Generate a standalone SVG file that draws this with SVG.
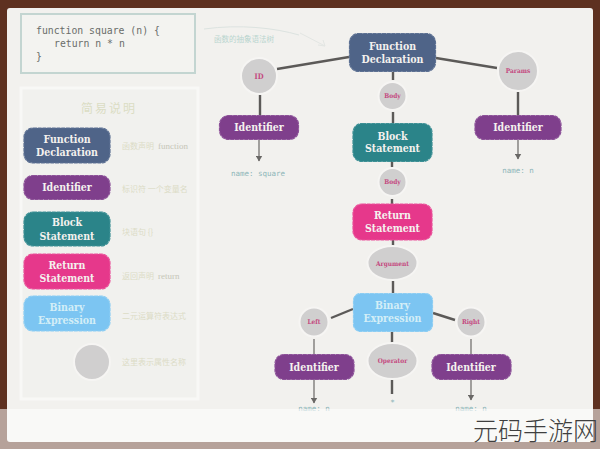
<svg xmlns="http://www.w3.org/2000/svg" width="600" height="449" viewBox="0 0 600 449">
<defs>
<style>
.n{stroke-width:1.2;stroke-dasharray:4 .7}
.fd{fill:#4f6488;stroke:#5d7193}
.id{fill:#7f3f8c;stroke:#8d5299}
.bs{fill:#2b8489;stroke:#3d9095}
.rs{fill:#e6388b;stroke:#ea5099}
.be{fill:#7cc5f2;stroke:#8ccdf3}
.t{font-family:"DejaVu Serif Condensed","DejaVu Serif",serif;font-weight:700;font-size:10.5px;text-anchor:middle}
.w{fill:#f4f1ee}
.bl{fill:#d3eef7}
.c{fill:#d0cfcf;stroke:#f6f5f3;stroke-width:2}
.cl{font-family:"DejaVu Serif Condensed","DejaVu Serif",serif;font-weight:700;font-size:6.5px;text-anchor:middle;fill:#c44a80}
.line{stroke:#5c5a58;stroke-width:2.4;fill:none}
.thin{stroke:#6a6866;stroke-width:1.2;fill:none}
.d{font-family:"Noto Sans CJK SC",sans-serif;font-size:8px;fill:#dcdcc6}
.dn{font-family:"Liberation Serif",serif;font-size:9px;fill:#c6c6b8}
.nm{font-family:"DejaVu Sans Mono",monospace;font-size:7.5px;fill:#8cb5b8;text-anchor:middle}
.code{font-family:"DejaVu Sans Mono",monospace;font-size:9.8px;fill:#6a6d6a}
</style>
<marker id="a" markerWidth="6" markerHeight="7" refX="5.500" refY="3.500" orient="auto" markerUnits="userSpaceOnUse" viewBox="0 0 6 7"><path d="M0 0L6 3.500L0 7Z" fill="#6a6866"/></marker>
</defs>
<rect width="600" height="449" fill="#5e3120"/>
<rect x="7" y="8" width="586" height="434" rx="3" fill="#f2f1ee"/>

<g id="code">
<rect x="21" y="14" width="174" height="59" fill="#f3f3f0" stroke="#c3d5d1" stroke-width="2"/>
<text class="code" x="36" y="34">function square (n) {</text>
<text class="code" x="54" y="47">return n * n</text>
<text class="code" x="36" y="60">}</text>
</g>

<g id="caption">
<path d="M204 29C240 24 275 28 299 35" fill="none" stroke="#dce3e0" stroke-width="1"/>
<path d="M300 33L325 46M325 46L318 45M325 46L323 40" fill="none" stroke="#e3e6e3" stroke-width="1"/>
<text x="214" y="42" font-family="'Noto Sans CJK SC',sans-serif" font-size="7.500" fill="#b9d5cf">函数的抽象语法树</text>
</g>

<g id="legend">
<rect x="21" y="88" width="177" height="311" fill="#f1f1ee" stroke="#f8f8f6" stroke-width="3"/>
<text x="109" y="113" text-anchor="middle" font-family="'Noto Sans CJK SC',serif" font-size="12" letter-spacing="2" fill="#dbddc4">简易说明</text>
<g id="leg-fd"><rect class="n fd" x="24" y="128" width="86" height="35" rx="9"/><text class="t w" x="67" y="143">Function</text><text class="t w" x="67" y="156">Declaration</text><text class="d" x="122" y="149">函数声明</text><text class="dn" x="158" y="149">function</text></g>
<g id="leg-id"><rect class="n id" x="24" y="175.500" width="86" height="24" rx="9"/><text class="t w" x="67" y="191">Identifier</text><text class="d" x="122" y="192">标识符 一个变量名</text></g>
<g id="leg-bs"><rect class="n bs" x="24" y="212" width="86" height="34" rx="9"/><text class="t w" x="67" y="226">Block</text><text class="t w" x="67" y="240">Statement</text><text class="d" x="122" y="235">块语句 {}</text></g>
<g id="leg-rs"><rect class="n rs" x="24" y="254" width="86" height="35" rx="9"/><text class="t w" x="67" y="269">Return</text><text class="t w" x="67" y="282">Statement</text><text class="d" x="122" y="279">返回声明</text><text class="dn" x="158" y="279">return</text></g>
<g id="leg-be"><rect class="n be" x="24" y="296" width="86" height="35" rx="9"/><text class="t bl" x="67" y="311">Binary</text><text class="t bl" x="67" y="324">Expression</text><text class="d" x="122" y="319">二元运算符表达式</text></g>
<g id="leg-c"><circle class="c" cx="92" cy="362" r="18"/><text class="d" x="122" y="365">这里表示属性名称</text></g>
</g>

<g id="connectors">
<path class="line" d="M277 69L349 57"/>
<path class="line" d="M436 58L497 68"/>
<path class="line" d="M393 72V80"/>
<path class="line" d="M393 112V123"/>
<path class="line" d="M392 161V167"/>
<path class="line" d="M392 199V204"/>
<path class="line" d="M393 240V247"/>
<path class="line" d="M393 281V293"/>
<path class="line" d="M331 318L353 309"/>
<path class="line" d="M433 313L455 320"/>
<path class="line" d="M392 332V343"/>
<path class="line" d="M392 380V394"/>
<path class="line" d="M260 95V116"/>
<path class="line" d="M518 92V116"/>
<path class="thin" d="M259 140V161" marker-end="url(#a)"/>
<path class="thin" d="M518 140V159" marker-end="url(#a)"/>
<path class="thin" d="M314 339V355"/>
<path class="thin" d="M314 379V403" marker-end="url(#a)"/>
<path class="thin" d="M471 339V355"/>
<path class="thin" d="M471 379V400" marker-end="url(#a)"/>
</g>

<g id="fd"><rect class="n fd" x="349.500" y="33.500" width="86" height="38" rx="9"/><text class="t w" x="392.500" y="50">Function</text><text class="t w" x="392.500" y="63">Declaration</text></g>
<g id="id-c"><circle class="c" cx="259" cy="76" r="18"/><text class="cl" x="259" y="79" style="font-size:7.500px">ID</text></g>
<g id="params-c"><circle class="c" cx="518" cy="71" r="20"/><text class="cl" x="518" y="73">Params</text></g>
<g id="body1"><circle class="c" cx="392.500" cy="96" r="14"/><text class="cl" x="392.500" y="98">Body</text></g>
<g id="id1"><rect class="n id" x="219.500" y="115.500" width="79" height="24" rx="9"/><text class="t w" x="259" y="131">Identifier</text></g>
<g id="bs"><rect class="n bs" x="353" y="123.500" width="79" height="38" rx="9"/><text class="t w" x="392.500" y="140">Block</text><text class="t w" x="392.500" y="152">Statement</text></g>
<g id="id2"><rect class="n id" x="475" y="115.500" width="86" height="24" rx="9"/><text class="t w" x="518" y="131">Identifier</text></g>
<text class="nm" x="258" y="176">name: square</text>
<text class="nm" x="518" y="173">name: n</text>
<g id="body2"><circle class="c" cx="392.500" cy="182" r="14"/><text class="cl" x="392.500" y="184">Body</text></g>
<g id="rs"><rect class="n rs" x="353" y="204" width="79" height="36" rx="9"/><text class="t w" x="392.500" y="219">Return</text><text class="t w" x="392.500" y="231.500">Statement</text></g>
<g id="arg"><ellipse class="c" cx="392.500" cy="263" rx="25" ry="17"/><text class="cl" x="392.500" y="266">Argument</text></g>
<g id="be"><rect class="n be" x="353.500" y="293.500" width="79" height="38" rx="7"/><text class="t bl" x="392.500" y="309">Binary</text><text class="t bl" x="392.500" y="322">Expression</text></g>
<g id="left"><circle class="c" cx="314" cy="322" r="14.500"/><text class="cl" x="314" y="324">Left</text></g>
<g id="right"><circle class="c" cx="471" cy="322" r="14.500"/><text class="cl" x="471" y="324">Right</text></g>
<g id="op"><ellipse class="c" cx="392.500" cy="361" rx="25" ry="18"/><text class="cl" x="392.500" y="363">Operator</text></g>
<g id="id3"><rect class="n id" x="275" y="354.500" width="79" height="25" rx="9"/><text class="t w" x="314" y="371">Identifier</text></g>
<g id="id4"><rect class="n id" x="432" y="354.500" width="79" height="25" rx="9"/><text class="t w" x="471" y="371">Identifier</text></g>
<text class="nm" x="314" y="411">name: n</text>
<text class="nm" x="392.500" y="405">*</text>
<text class="nm" x="471" y="411">name: n</text>

<g id="watermark">
<rect x="0" y="409" width="600" height="40" fill="#fff" opacity="0.55"/>
<text x="598" y="440" text-anchor="end" font-family="'Noto Sans CJK SC',sans-serif" font-size="25" fill="#3f3f3f" style="font-weight:300">元码手游网</text>
</g>
</svg>
